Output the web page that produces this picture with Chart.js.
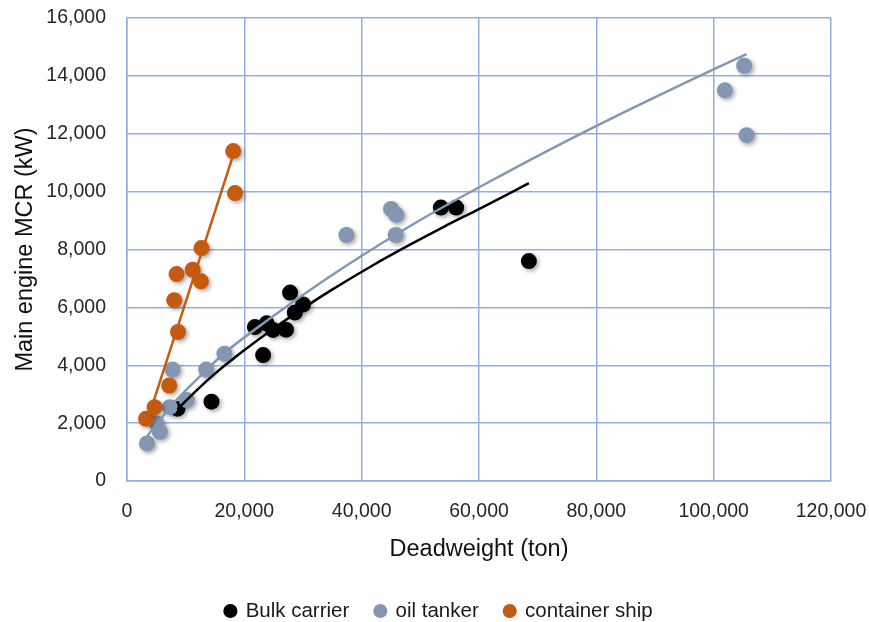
<!DOCTYPE html>
<html>
<head>
<meta charset="utf-8">
<script src="https://cdn.jsdelivr.net/npm/chart.js@4/dist/chart.umd.min.js"></script>
<style>
  html, body { margin: 0; padding: 0; background: #ffffff; }
  #wrap { width: 870px; height: 622px; }
</style>
</head>
<body>
<div id="wrap"><canvas id="c"></canvas></div>
<script>
// Ship samples: deadweight (ton) vs main engine MCR (kW)
const bulkDwt = [8600, 14400, 21800, 23800, 24900, 27100, 23200, 27800, 28600, 30000, 53500, 56100, 68500];
const bulkMcr = [2500, 2740, 5320, 5450, 5220, 5230, 4350, 6510, 5820, 6100, 9450, 9450, 7600];

const tankerDwt = [3400, 5000, 5600, 7300, 7750, 10200, 13500, 16600, 37400, 45000, 45900, 45800, 101900, 105200, 105600];
const tankerMcr = [1300, 2000, 1700, 2550, 3850, 2800, 3850, 4400, 8500, 9400, 9200, 8500, 13500, 14350, 11950];

const containerDwt = [3250, 4700, 7200, 8700, 8050, 8450, 11200, 12600, 12700, 18100, 18400];
const containerMcr = [2150, 2550, 3300, 5150, 6250, 7150, 7300, 6900, 8050, 11400, 9950];

// Trend lines
const bulkTrendDwt = [8600, 12000, 15000, 19800, 25000, 30000, 34550, 42000, 48000, 54000, 60080, 68500];
const bulkTrendMcr = [2480, 3160, 3710, 4490, 5270, 5965, 6560, 7465, 8140, 8785, 9405, 10290];

const tankerTrendDwt = [3450, 8000, 12000, 16390, 24000, 36250, 50000, 63490, 79940, 99790, 105600];
const tankerTrendMcr = [1550, 2700, 3530, 4380, 5560, 7290, 9020, 10530, 12260, 14205, 14750];

const containerTrendDwt = [3250, 18400];
const containerTrendMcr = [1950, 11450];

// Axis ticks
const xTicks = [0, 20000, 40000, 60000, 80000, 100000, 120000];
const yTicks = [0, 2000, 4000, 6000, 8000, 10000, 12000, 14000, 16000];

const seriesNames = ['Bulk carrier', 'oil tanker', 'container ship'];
const BLACK = '#000000';
const GREY_BLUE = '#8497b0';
const ORANGE = '#c55a11';
const GRID = '#94aedf';
const FONT = 'Liberation Sans';

const pts = (xs, ys) => xs.map((x, i) => ({ x: x, y: ys[i] }));

// Soft drop shadow under the round markers
const markerShadow = {
  id: 'markerShadow',
  beforeDatasetDraw(chart, args) {
    if (!chart.data.datasets[args.index].markerShadow) return;
    const ctx = chart.ctx;
    ctx.save();
    ctx.shadowColor = 'rgba(0,0,0,0.35)';
    ctx.shadowBlur = 4;
    ctx.shadowOffsetX = 2;
    ctx.shadowOffsetY = 2;
  },
  afterDatasetDraw(chart, args) {
    if (!chart.data.datasets[args.index].markerShadow) return;
    chart.ctx.restore();
  }
};

const markerSet = (label, xs, ys, color, order) => ({
  label: label,
  data: pts(xs, ys),
  backgroundColor: color,
  borderColor: color,
  borderWidth: 0,
  pointRadius: 8,
  pointHoverRadius: 8,
  showLine: false,
  order: order,
  markerShadow: true
});

const trendSet = (xs, ys, color) => ({
  label: '',
  data: pts(xs, ys),
  borderColor: color,
  backgroundColor: color,
  borderWidth: 2.5,
  pointRadius: 0,
  showLine: true,
  cubicInterpolationMode: 'monotone',
  order: 0
});

new Chart(document.getElementById('c'), {
  type: 'scatter',
  data: {
    datasets: [
      markerSet(seriesNames[0], bulkDwt, bulkMcr, BLACK, 3),
      markerSet(seriesNames[1], tankerDwt, tankerMcr, GREY_BLUE, 2),
      markerSet(seriesNames[2], containerDwt, containerMcr, ORANGE, 1),
      trendSet(bulkTrendDwt, bulkTrendMcr, BLACK),
      trendSet(tankerTrendDwt, tankerTrendMcr, GREY_BLUE),
      trendSet(containerTrendDwt, containerTrendMcr, ORANGE)
    ]
  },
  options: {
    responsive: true,
    maintainAspectRatio: false,
    animation: false,
    layout: { padding: { top: 0, right: 0, bottom: -9.25, left: 8 } },
    plugins: {
      tooltip: { enabled: false },
      legend: {
        position: 'bottom',
        labels: {
          filter: (item) => item.datasetIndex < 3,
          sort: (a, b) => a.datasetIndex - b.datasetIndex,
          usePointStyle: true,
          pointStyle: 'circle',
          boxWidth: 10,
          boxHeight: 10,
          padding: 26,
          color: '#1a1a1a',
          font: { family: FONT, size: 20.5 }
        }
      }
    },
    scales: {
      x: {
        type: 'linear',
        min: xTicks[0],
        max: xTicks[xTicks.length - 1],
        afterBuildTicks: (scale) => { scale.ticks = xTicks.map(v => ({ value: v })); },
        afterFit: (scale) => { scale.height = 93.75; scale.paddingRight = 39; },
        grid: { color: GRID, lineWidth: 1.5, drawTicks: false },
        border: { color: GRID, width: 1.5 },
        ticks: {
          padding: 19,
          color: '#262626',
          font: { family: FONT, size: 19.5 },
          callback: (v) => v.toLocaleString('en-US')
        },
        title: {
          display: true,
          text: 'Deadweight (ton)',
          color: '#111111',
          font: { family: FONT, size: 23.5 },
          padding: { top: 0, bottom: 11.6 }
        }
      },
      y: {
        type: 'linear',
        min: yTicks[0],
        max: yTicks[yTicks.length - 1],
        afterBuildTicks: (scale) => { scale.ticks = yTicks.map(v => ({ value: v })); },
        afterFit: (scale) => { scale.width = 119; scale.paddingTop = 18; scale.paddingBottom = 12; },
        grid: { color: GRID, lineWidth: 1.5, drawTicks: false },
        border: { color: GRID, width: 1.5 },
        ticks: {
          padding: 21,
          color: '#262626',
          font: { family: FONT, size: 19.5 },
          callback: (v) => v.toLocaleString('en-US')
        },
        title: {
          display: true,
          text: 'Main engine MCR (kW)',
          color: '#111111',
          font: { family: FONT, size: 23.5 },
          padding: { top: 3.4, bottom: 0 }
        }
      }
    }
  },
  plugins: [markerShadow]
});
</script>
</body>
</html>
